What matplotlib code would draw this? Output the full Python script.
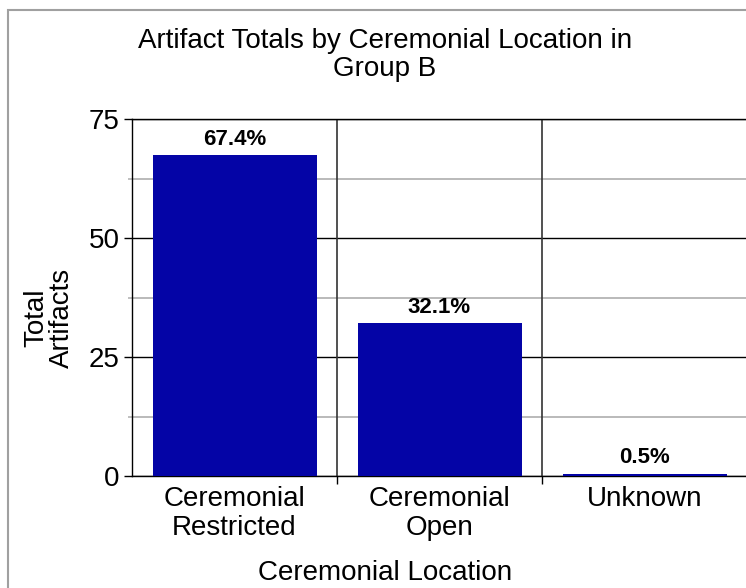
import matplotlib
matplotlib.use('Agg')
import matplotlib.pyplot as plt
from matplotlib.patches import Rectangle

# data
categories = ['Ceremonial\nRestricted', 'Ceremonial\nOpen', 'Unknown']
totals = [67.4, 32.1, 0.5]
pct_labels = ['67.4%', '32.1%', '0.5%']
y_ticks = [0, 25, 50, 75]

plt.rcParams['font.family'] = ['Liberation Sans', 'DejaVu Sans']

fig = plt.figure(figsize=(7.46, 5.88), dpi=100)
ax = fig.add_axes([132 / 746, 0.1901, 615 / 746, 0.6072])

x = range(len(categories))
bars = ax.bar(x, totals, width=0.8, color='#0404A6', zorder=3)

for b, lab in zip(bars, pct_labels):
    ax.annotate(lab, (b.get_x() + b.get_width() / 2, b.get_height()),
                xytext=(0, 4), textcoords='offset points',
                ha='center', va='bottom', fontsize=16, fontweight='bold')

ax.set_xlim(-0.5, 2.5)
ax.set_ylim(0, 75)
ax.set_yticks(y_ticks)
ax.set_yticks([12.5, 37.5, 62.5], minor=True)
ax.set_xticks(list(x))
ax.set_xticklabels(categories, fontsize=20, linespacing=1.15)
ax.set_xticks([0.5, 1.5], minor=True)
ax.tick_params(axis='y', which='major', labelsize=20, length=6, width=1, pad=3)
ax.tick_params(axis='y', which='minor', length=3, width=1.2, color='#b4b4b4')
ax.tick_params(axis='x', which='major', length=0, pad=7)
ax.tick_params(axis='x', which='minor', length=6, width=1)

ax.grid(axis='y', which='major', color='black', lw=1, zorder=1)
ax.grid(axis='y', which='minor', color='#b4b4b4', lw=1.3, zorder=1)
for xv in [0.5, 1.5]:
    ax.axvline(xv, color='#333333', lw=1.2, zorder=2)

for s in ax.spines.values():
    s.set_color('black')
    s.set_linewidth(1)

fig.text(0.516, 0.907, 'Artifact Totals by Ceremonial Location in\nGroup B',
         ha='center', va='center', fontsize=20, linespacing=1.1)
fig.text(0.516, 0.025, 'Ceremonial Location', ha='center', va='center', fontsize=20)
fig.text(0.066, 0.46, 'Total\nArtifacts', ha='center', va='center',
         rotation=90, fontsize=20, linespacing=1.0)

fig.patches.append(Rectangle((8 / 746, -0.1), 1.2, 1.1 - 10 / 588,
                             transform=fig.transFigure, fill=False,
                             edgecolor='#a0a0a0', lw=1.5))

fig.savefig('out.png', dpi=100)
